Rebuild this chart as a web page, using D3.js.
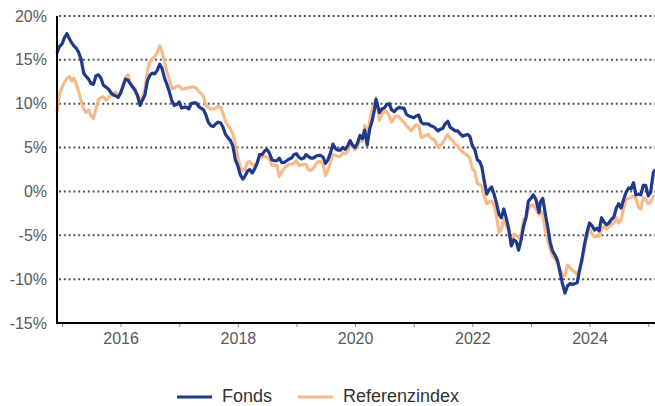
<!doctype html>
<html lang="de">
<head>
    <meta charset="utf-8"/>
    <title>Fonds vs. Referenzindex</title>
    <style>
        body { margin: 0; background: #fff; }
        svg { display: block; }
    </style>
</head>
<body>
    <svg id="chart"></svg>
    <script src="https://d3js.org/d3.v7.min.js"></script>
    <script>
        // readings twice a month (a few shifted to turning points), values in %
        const dates = [
            "2014-12-01","2014-12-16",
            "2015-01-01","2015-01-16","2015-02-01","2015-02-16","2015-03-01","2015-03-16","2015-04-01","2015-04-16","2015-05-01","2015-05-16","2015-06-01","2015-06-16",
            "2015-07-01","2015-07-16","2015-08-01","2015-08-16","2015-09-01","2015-09-16","2015-10-01","2015-10-16","2015-11-01","2015-11-16","2015-12-01","2015-12-16",
            "2016-01-01","2016-01-16","2016-02-01","2016-02-16","2016-03-01","2016-03-16","2016-04-01","2016-04-16","2016-05-01","2016-05-16","2016-06-01","2016-06-16",
            "2016-07-01","2016-07-16","2016-08-01","2016-08-16","2016-09-01","2016-09-16","2016-10-01","2016-10-16","2016-11-01","2016-11-16","2016-12-01","2016-12-16",
            "2017-01-01","2017-01-16","2017-02-01","2017-02-16","2017-03-01","2017-03-16","2017-04-01","2017-04-16","2017-05-01","2017-05-16","2017-06-01","2017-06-16",
            "2017-07-01","2017-07-16","2017-08-01","2017-08-16","2017-09-01","2017-09-16","2017-10-01","2017-10-16","2017-11-01","2017-11-16","2017-12-01","2017-12-16",
            "2018-01-01","2018-01-16","2018-02-01","2018-02-16","2018-03-01","2018-03-16","2018-04-01","2018-04-16","2018-05-01","2018-05-16","2018-06-01","2018-06-16",
            "2018-07-01","2018-07-16","2018-08-01","2018-08-16","2018-09-01","2018-09-16","2018-10-01","2018-10-16","2018-11-01","2018-11-16","2018-12-01","2018-12-16",
            "2019-01-01","2019-01-16","2019-02-01","2019-02-16","2019-03-01","2019-03-16","2019-04-01","2019-04-16","2019-05-01","2019-05-16","2019-06-01","2019-06-16",
            "2019-07-01","2019-07-16","2019-08-01","2019-08-16","2019-09-01","2019-09-16","2019-10-01","2019-10-16","2019-11-01","2019-11-16","2019-12-01","2019-12-16",
            "2020-01-01","2020-01-16","2020-02-01","2020-02-16","2020-03-01","2020-03-17","2020-04-01","2020-04-16","2020-05-01","2020-05-11","2020-06-01","2020-06-16",
            "2020-07-01","2020-07-16","2020-08-01","2020-08-16","2020-09-01","2020-09-16","2020-10-01","2020-10-16","2020-11-01","2020-11-16","2020-12-01","2020-12-16",
            "2021-01-01","2021-01-16","2021-02-01","2021-02-16","2021-03-01","2021-03-16","2021-04-01","2021-04-16","2021-05-01","2021-05-16","2021-06-01","2021-06-16",
            "2021-07-01","2021-07-16","2021-08-01","2021-08-16","2021-09-01","2021-09-16","2021-10-01","2021-10-16","2021-11-01","2021-11-16","2021-12-01","2021-12-16",
            "2022-01-01","2022-01-16","2022-02-01","2022-02-16","2022-03-01","2022-03-16","2022-04-01","2022-04-16","2022-05-01","2022-05-16","2022-06-01","2022-06-16",
            "2022-07-01","2022-07-16","2022-08-01","2022-08-16","2022-09-01","2022-09-16","2022-10-01","2022-10-16","2022-11-01","2022-11-16","2022-12-01","2022-12-16",
            "2023-01-01","2023-01-16","2023-02-01","2023-02-20","2023-03-01","2023-03-16","2023-04-01","2023-04-16","2023-05-01","2023-05-16","2023-06-01","2023-06-16",
            "2023-07-01","2023-07-16","2023-08-01","2023-08-16","2023-09-01","2023-09-16","2023-10-01","2023-10-16","2023-11-01","2023-11-16","2023-12-01","2023-12-16",
            "2024-01-01","2024-01-16","2024-02-01","2024-02-16","2024-03-01","2024-03-16","2024-04-01","2024-04-16","2024-05-01","2024-05-16","2024-06-01","2024-06-16",
            "2024-07-01","2024-07-16","2024-08-01","2024-08-16","2024-09-01","2024-09-16","2024-10-01","2024-10-16","2024-11-01","2024-11-16","2024-12-01","2024-12-16",
            "2025-01-01","2025-01-16","2025-02-01","2025-02-12"
        ];

        const fonds = [
            15.8, 16.5,
            16.8, 17.5, 18.0, 17.4, 17.0, 16.6, 16.3, 15.8, 15.0, 13.5, 13.1, 12.8, 12.3, 12.2, 13.2, 13.3, 12.9, 12.1, 11.9, 11.7, 11.3, 11.0, 10.9, 10.7,
            11.2, 12.0, 12.8, 12.7, 12.3, 11.9, 11.5, 10.9, 9.8, 10.4, 11.0, 12.6, 13.2, 13.5, 13.4, 13.8, 14.5, 14.0, 12.9, 12.2, 11.3, 10.3, 9.8, 9.9,
            10.2, 9.5, 9.6, 9.6, 9.4, 10.0, 10.1, 10.1, 9.7, 9.5, 9.3, 8.7, 7.9, 7.5, 7.4, 7.7, 7.9, 7.8, 7.3, 6.5, 6.1, 5.8, 5.2, 3.6,
            2.9, 1.9, 1.4, 1.8, 2.3, 2.5, 2.1, 2.6, 3.2, 4.2, 4.2, 4.6, 4.8, 4.4, 3.6, 3.5, 3.5, 3.8, 3.3, 3.3, 3.5, 3.7, 3.8, 4.2,
            4.3, 3.9, 3.7, 3.8, 4.2, 4.0, 3.8, 3.8, 4.0, 4.1, 4.1, 3.9, 3.2, 3.6, 4.4, 5.4, 4.9, 4.7, 4.7, 5.0, 4.8, 5.2, 5.8, 5.3,
            5.0, 5.5, 6.4, 6.0, 7.0, 5.3, 7.1, 8.0, 9.3, 10.5, 9.0, 9.4, 9.5, 9.9, 10.0, 9.3, 9.1, 9.4, 9.6, 9.5, 9.5, 8.8, 8.6, 8.5,
            8.4, 8.6, 8.7, 7.9, 7.7, 7.7, 7.7, 7.5, 7.4, 7.2, 6.9, 7.1, 7.2, 7.7, 8.0, 7.3, 7.1, 6.9, 6.9, 6.6, 6.3, 6.4, 6.5, 6.3,
            5.2, 4.8, 3.6, 3.4, 2.8, 1.2, -0.3, 0.2, 0.5, -0.3, -1.4, -2.6, -3.0, -2.0, -3.1, -4.3, -6.2, -5.5, -5.7, -6.7, -5.5, -4.0, -3.0, -1.1,
            -0.8, -0.4, -0.9, -2.4, -1.2, -0.8, -2.6, -4.1, -5.8, -6.8, -7.3, -7.9, -9.2, -10.5, -11.6, -10.8, -10.5, -10.6, -10.5, -10.4, -8.9, -7.6, -6.0, -4.7,
            -3.6, -3.9, -4.4, -4.2, -4.5, -3.0, -3.5, -3.8, -3.6, -3.2, -2.9, -1.9, -1.4, -1.9, -0.9, -0.1, 0.4, 0.3, 1.0, -0.4, -0.3, -0.4, 0.7, 0.7,
            -0.5, -0.1, 2.1, 2.5
        ];

        const referenz = [
            9.0, 11.1,
            11.8, 12.4, 12.9, 13.1, 12.6, 12.9, 12.2, 11.3, 10.3, 9.4, 9.0, 9.3, 8.6, 8.3, 9.4, 10.5, 10.7, 10.8, 10.4, 10.6, 11.0, 11.1, 11.3, 11.1,
            11.1, 12.0, 13.0, 13.3, 12.5, 12.0, 11.7, 11.0, 10.4, 10.8, 11.6, 13.8, 14.7, 15.1, 15.4, 15.8, 16.6, 15.9, 14.8, 13.6, 12.7, 11.7, 11.8, 12.0,
            12.0, 11.7, 11.7, 11.8, 11.8, 11.9, 11.9, 11.8, 11.4, 11.2, 10.8, 9.8, 9.6, 9.4, 9.4, 9.5, 9.7, 9.6, 8.9, 8.0, 7.5, 7.1, 6.5, 5.5,
            3.9, 2.8, 2.4, 2.6, 3.3, 3.4, 3.0, 3.0, 3.3, 3.8, 4.0, 4.0, 3.9, 3.7, 3.0, 3.0, 3.0, 1.7, 2.2, 2.6, 2.9, 3.1, 3.1, 3.2,
            3.5, 3.0, 3.0, 3.1, 3.1, 2.5, 2.4, 2.6, 3.1, 3.4, 3.4, 3.1, 1.8, 2.4, 3.3, 4.2, 4.1, 4.0, 4.0, 4.4, 4.3, 4.6, 5.3, 5.1,
            4.8, 5.2, 5.9, 5.7, 7.5, 6.5, 7.9, 9.3, 10.0, 10.7, 8.1, 8.9, 9.1, 9.1, 8.6, 7.9, 8.4, 8.6, 8.5, 8.1, 7.9, 7.5, 7.2, 6.9,
            7.3, 7.6, 7.5, 6.2, 6.2, 6.4, 6.5, 6.1, 6.0, 5.7, 5.0, 5.3, 5.5, 6.1, 6.5, 6.0, 5.8, 5.4, 5.2, 4.8, 4.5, 4.3, 4.1, 3.8,
            2.6, 2.3, 0.9, 0.8, 0.6, -0.5, -1.4, -1.2, -1.1, -1.6, -2.9, -4.7, -4.3, -3.2, -3.9, -4.6, -6.2, -4.9, -5.0, -5.3, -4.9, -3.2, -3.0, -2.0,
            -1.6, -1.6, -2.0, -2.7, -2.2, -2.6, -4.6, -5.5, -6.6, -7.4, -7.7, -8.2, -8.8, -9.6, -9.6, -8.4, -8.7, -9.0, -9.2, -9.4, -8.9, -7.9, -6.5, -5.0,
            -4.3, -4.8, -5.2, -5.1, -5.1, -4.3, -4.0, -4.3, -4.0, -3.8, -3.6, -3.0, -3.6, -3.2, -1.8, -0.9, -0.8, -0.7, -0.5, -0.8, -1.8, -2.0, -0.7, -0.9,
            -1.4, -1.2, -0.6, -0.5
        ];

        const yTicks = [-15, -10, -5, 0, 5, 10, 15, 20];
        const xTickYears = [2015, 2016, 2017, 2018, 2019, 2020, 2021, 2022, 2023, 2024, 2025];
        const labelYears = [2016, 2018, 2020, 2022, 2024];

        const seriesNames = ["Fonds", "Referenzindex"];
        const seriesColors = ["#1f3a8a", "#f8b98b"];

        const width = 655;
        const height = 406;
        const margin = {top: 16, right: 0, bottom: 83, left: 57};

        const parse = d3.timeParse("%Y-%m-%d");
        const time = dates.map(parse);

        const x = d3.scaleTime()
            .domain([parse("2014-12-01"), parse("2025-02-12")])
            .range([margin.left, width - margin.right]);

        const y = d3.scaleLinear()
            .domain([-15, 20])
            .range([height - margin.bottom, margin.top]);

        const svg = d3.select("#chart")
            .attr("width", width)
            .attr("height", height)
            .attr("viewBox", [0, 0, width, height])
            .style("font-family", "'Liberation Sans', Arial, sans-serif");

        // dotted grid
        svg.append("g")
            .selectAll("line")
            .data(yTicks.filter(d => d > -15))
            .join("line")
                .attr("x1", margin.left + 2)
                .attr("x2", width)
                .attr("y1", d => y(d))
                .attr("y2", d => y(d))
                .attr("stroke", "#555")
                .attr("stroke-width", 2)
                .attr("stroke-dasharray", "2,2.8");

        // y axis labels
        const yAxis = svg.append("g")
            .attr("transform", `translate(${margin.left},0)`)
            .call(d3.axisLeft(y).tickValues(yTicks).tickSize(0).tickPadding(10).tickFormat(d => d + "%"));
        yAxis.select(".domain").remove();
        yAxis.selectAll("text")
            .attr("font-size", 16)
            .attr("font-family", "'Liberation Sans', Arial, sans-serif")
            .attr("fill", "#595959");

        // x axis
        const xAxis = svg.append("g")
            .attr("transform", `translate(0,${y(-15)})`)
            .call(d3.axisBottom(x)
                .tickValues(xTickYears.map(yr => new Date(yr, 0, 1)))
                .tickSize(4)
                .tickPadding(6)
                .tickFormat(d => labelYears.includes(d.getFullYear()) ? d.getFullYear() : ""));
        xAxis.select(".domain").remove();
        xAxis.selectAll(".tick line").attr("stroke", "#888").attr("stroke-width", 1);
        xAxis.selectAll("text")
            .attr("font-size", 16)
            .attr("font-family", "'Liberation Sans', Arial, sans-serif")
            .attr("fill", "#595959");

        // series lines, reference first so the fund sits on top
        const line = d3.line()
            .x((d, i) => x(time[i]))
            .y(d => y(d));

        [referenz, fonds].forEach((values, j) => {
            svg.append("path")
                .datum(values)
                .attr("fill", "none")
                .attr("stroke", seriesColors[1 - j])
                .attr("stroke-width", 3.2)
                .attr("stroke-linejoin", "round")
                .attr("d", line);
        });

        // axis frame lines
        svg.append("line")
            .attr("x1", margin.left).attr("x2", margin.left)
            .attr("y1", y(20)).attr("y2", y(-15) + 1)
            .attr("stroke", "#000").attr("stroke-width", 2);
        svg.append("line")
            .attr("x1", margin.left - 1).attr("x2", width)
            .attr("y1", y(-15)).attr("y2", y(-15))
            .attr("stroke", "#000").attr("stroke-width", 2);

        // legend
        const legendX = [177, 298];
        const legend = svg.append("g")
            .selectAll("g")
            .data(seriesNames)
            .join("g")
                .attr("transform", (d, i) => `translate(${legendX[i]},397)`);
        legend.append("line")
            .attr("x1", 0).attr("x2", 35)
            .attr("stroke", (d, i) => seriesColors[i])
            .attr("stroke-width", 3);
        legend.append("text")
            .attr("x", 45)
            .attr("y", 5)
            .attr("font-size", 18)
            .attr("fill", "#333")
            .text(d => d);
    </script>
</body>
</html>
